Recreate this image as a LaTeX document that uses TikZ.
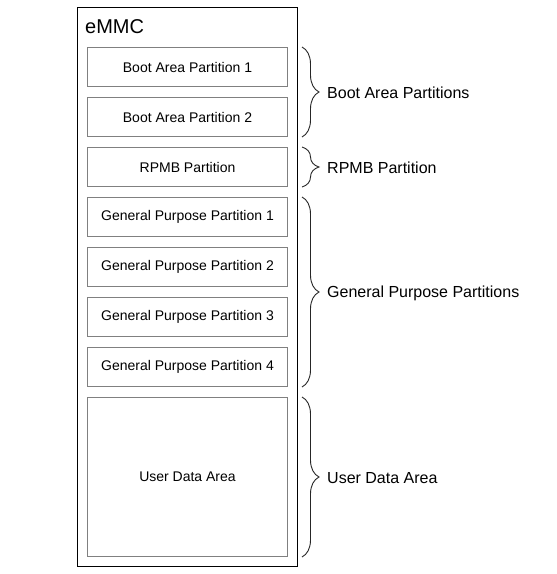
\documentclass[tikz,border=0pt]{standalone}
\usepackage{fontspec}
\setmainfont{Liberation Sans}
\usetikzlibrary{decorations.pathreplacing}
\begin{document}
\begin{tikzpicture}[x=1pt,y=-1pt,
  part/.style={draw=black!50,line width=1pt,fill=white,minimum width=200pt,inner sep=0pt,font=\fontsize{14}{16}\selectfont,anchor=north west},
  bracestyle/.style={draw=black!85,line width=0.9pt,decorate,decoration={brace,amplitude=17pt}},
  lbl/.style={anchor=west,font=\fontsize{16}{19}\selectfont,inner sep=0pt}]
\useasboundingbox (0,0) rectangle (557,574);
\node[draw=black,line width=1pt,minimum width=220pt,minimum height=559pt,anchor=north west,inner sep=0pt] (outer) at (77,7) {};
\node[anchor=base west,font=\fontsize{20}{24}\selectfont,inner sep=0pt] (title) at (85,33) {eMMC};
\node[part,minimum height=39pt] (b1) at (87,47) {Boot Area Partition 1};
\node[part,minimum height=39pt] (b2) at (87,97) {Boot Area Partition 2};
\node[part,minimum height=39pt] (rp) at (87,147) {RPMB Partition};
\node[part,minimum height=39pt] (g1) at (87,197) {General Purpose Partition 1};
\node[part,minimum height=39pt] (g2) at (87,247) {General Purpose Partition 2};
\node[part,minimum height=39pt] (g3) at (87,297) {General Purpose Partition 3};
\node[part,minimum height=39pt] (g4) at (87,347) {General Purpose Partition 4};
\node[part,minimum height=159pt] (ud) at (87,397) {User Data Area};
\coordinate (bs1) at ([xshift=14pt]b1.north east);
\coordinate (be1) at ([xshift=14pt]b2.south east);
\coordinate (bs2) at ([xshift=14pt]rp.north east);
\coordinate (be2) at ([xshift=14pt]rp.south east);
\coordinate (bs3) at ([xshift=14pt]g1.north east);
\coordinate (be3) at ([xshift=14pt]g4.south east);
\coordinate (bs4) at ([xshift=14pt]ud.north east);
\coordinate (be4) at ([xshift=14pt]ud.south east);
\draw[bracestyle] (bs1) -- (be1);
\draw[bracestyle] (bs2) -- (be2);
\draw[bracestyle] (bs3) -- (be3);
\draw[bracestyle] (bs4) -- (be4);
\node[lbl] (l1) at (327,93) {Boot Area Partitions};
\node[lbl] (l2) at (327,168) {RPMB Partition};
\node[lbl] (l3) at (327,293) {General Purpose Partitions};
\node[lbl] (l4) at (327,478) {User Data Area};
\end{tikzpicture}
\end{document}
